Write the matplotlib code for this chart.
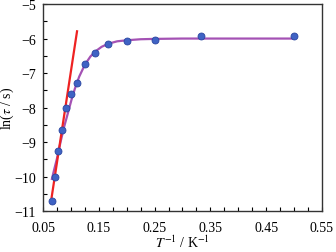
import numpy as np
import matplotlib
matplotlib.use("Agg")
import matplotlib.pyplot as plt
from matplotlib.ticker import MultipleLocator

plt.rcParams['font.family'] = ['Liberation Serif', 'DejaVu Serif']
plt.rcParams['mathtext.fontset'] = 'stix'

# measured points, x = 1/T (K^-1), y = ln(tau / s)
inv_t = [0.0667, 0.0714, 0.0769, 0.0833, 0.0909, 0.100, 0.111,
         0.125, 0.143, 0.167, 0.200, 0.250, 0.333, 0.500]
ln_tau = [-10.72, -10.02, -9.26, -8.65, -8.02, -7.60, -7.28,
          -6.74, -6.42, -6.16, -6.07, -6.05, -5.94, -5.94]

# fitted curve
fit_x = [0.066, 0.070, 0.075, 0.082, 0.088, 0.095, 0.101, 0.107, 0.115,
         0.125, 0.135, 0.145, 0.155, 0.167, 0.183, 0.200, 0.225, 0.250,
         0.300, 0.400, 0.500]
fit_y = [-10.07, -9.80, -9.48, -8.96, -8.55, -8.14, -7.78, -7.46, -7.10,
         -6.76, -6.52, -6.36, -6.24, -6.15, -6.08, -6.05, -6.02, -6.01,
         -6.00, -6.00, -6.00]

# linear (Orbach) fit of the high temperature part
lin_x = [0.0655, 0.111]
lin_y = [-10.60, -5.79]

fig = plt.figure(figsize=(3.36, 2.53), dpi=100)
ax = fig.add_axes([0.128, 0.162, 0.830, 0.818])

ax.plot(fit_x, fit_y, color='#a452b4', lw=1.6, zorder=2)
ax.plot(lin_x, lin_y, color='#ee2222', lw=1.6, zorder=3)
ax.plot(inv_t, ln_tau, 'o', ms=5, mfc='#3f63c4', mec='#2a45a0',
        mew=0.6, zorder=4)

ax.set_xlim(0.05, 0.55)
ax.set_ylim(-11, -5)
ax.set_xticks([0.05, 0.15, 0.25, 0.35, 0.45, 0.55])
ax.set_xticklabels(['0.05', '0.15', '0.25', '0.35', '0.45', '0.55'])
ax.xaxis.set_minor_locator(MultipleLocator(0.025))
ax.yaxis.set_major_locator(MultipleLocator(1))
ax.yaxis.set_minor_locator(MultipleLocator(0.5))
ax.tick_params(which='both', direction='in', length=3, width=0.8,
               top=False, right=False, labelsize=10)
ax.tick_params(axis='x', which='both', pad=7)
ax.tick_params(axis='y', which='both', pad=5)
for s in ax.spines.values():
    s.set_linewidth(1.0)
    s.set_color('#333333')

ax.set_xlabel(r'$T^{-1}$ / K$^{-1}$', fontsize=10, labelpad=0)
ax.set_ylabel(r'ln($\tau$ / s)', fontsize=10)
ax.yaxis.set_label_coords(-0.097, 0.5)

fig.savefig('out.png', dpi=100)
